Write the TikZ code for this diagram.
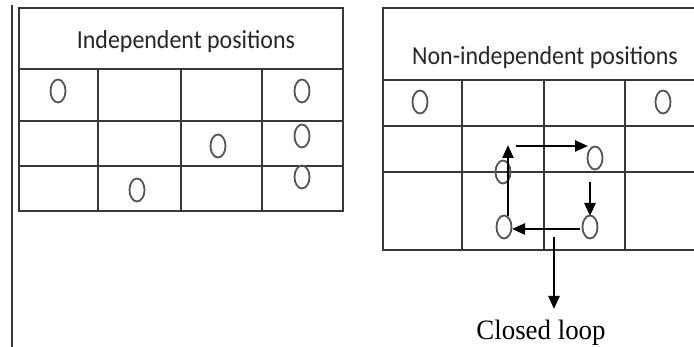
\documentclass[tikz,border=0pt]{standalone}
\usepackage{fontspec}
\usepackage{tikz}
\usetikzlibrary{shapes.geometric,arrows.meta}
\newfontfamily\headfont{Carlito}
\newfontfamily\notefont{Liberation Serif}
\definecolor{gridgray}{HTML}{383838}
\definecolor{ringgray}{HTML}{555555}
\tikzset{
	grid line/.style={draw=gridgray,line width=2.4pt},
	ring/.style={draw=ringgray,line width=1.8pt,ellipse,minimum width=15pt,minimum height=23pt,inner sep=0pt},
	head/.style={font=\headfont\fontsize{26}{30}\selectfont,text=black!85,inner sep=0pt},
	loop arrow/.style={draw=black,line width=2.4pt,-{Triangle[length=13pt,width=11pt]}}
}

\begin{document}
\begin{tikzpicture}[x=1pt,y=-1pt]
		\useasboundingbox (0,0) rectangle (694,347);
		\draw[line width=2.4pt,draw=gridgray] (12,5) -- (12,347);

		% independent table
		\draw[grid line] (19,8) rectangle (343,211);
		\foreach \yy in {69,121,166}
			\draw[grid line] (19,\yy) -- (343,\yy);
		\foreach \xx in {98,181,262}
			\draw[grid line] (\xx,69) -- (\xx,211);
		\node[head] (indep) at (186,42) {\scalebox{0.92}[1]{Independent positions}};

		\node[ring] (a1) at (58,91) {};
		\node[ring] (a2) at (302,91) {};
		\node[ring] (a3) at (218,146) {};
		\node[ring] (a4) at (302,136) {};
		\node[ring] (a5) at (137,190) {};
		\node[ring] (a6) at (302,177) {};

		% non-independent table
		\draw[grid line] (705,8) -- (383,8) -- (383,250) -- (705,250);
		\foreach \yy in {80,126,172}
			\draw[grid line] (383,\yy) -- (705,\yy);
		\foreach \xx in {462,544,625}
			\draw[grid line] (\xx,80) -- (\xx,250);
		\node[head] (nonindep) at (545,58) {\scalebox{0.92}[1]{Non-independent positions}};

		\node[ring] (b1) at (420,102) {};
		\node[ring] (b2) at (663,102) {};
		\node[ring] (tl) at (503,172) {};
		\node[ring] (tr) at (595,158) {};
		\node[ring] (bl) at (504,227) {};
		\node[ring] (br) at (590,227) {};

		\coordinate (top s) at (516,146);
		\coordinate (top e) at (588,146);
		\coordinate (rgt s) at (590,182);
		\coordinate (rgt e) at (590,216);
		\coordinate (bot s) at (580,229);
		\coordinate (bot e) at (512,229);
		\coordinate (lft s) at (508,216);
		\coordinate (lft e) at (508,145);
		\coordinate (out s) at (554,237);
		\coordinate (out e) at (554,309);

		\draw[loop arrow] (top s) -- (top e);
		\draw[loop arrow] (rgt s) -- (rgt e);
		\draw[loop arrow] (bot s) -- (bot e);
		\draw[loop arrow] (lft s) -- (lft e);
		\draw[loop arrow] (out s) -- (out e);

		\node[font=\notefont\fontsize{28}{32}\selectfont,anchor=base,inner sep=0pt] (closed) at (541,340) {\scalebox{0.96}[1]{Closed loop}};
	\end{tikzpicture}
\end{document}
